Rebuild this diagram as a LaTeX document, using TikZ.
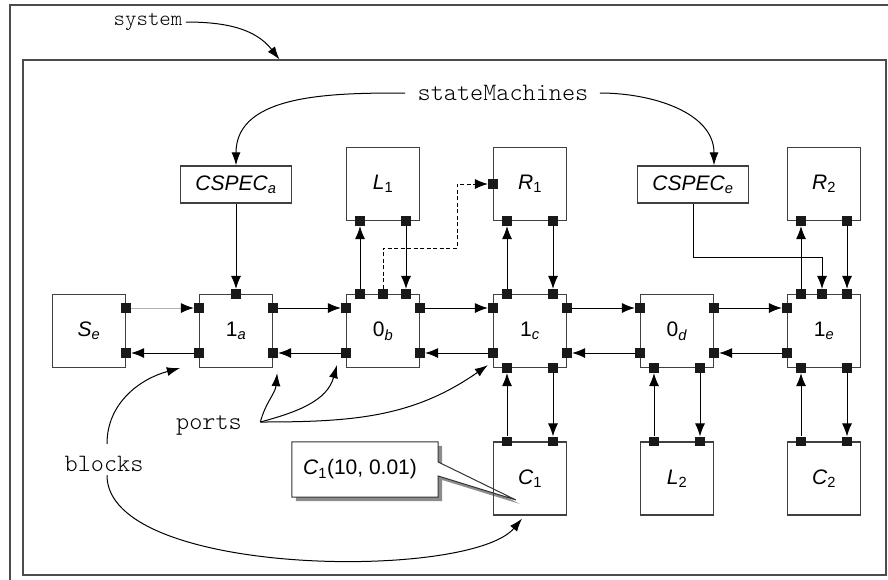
\documentclass[tikz,border=0pt]{standalone}
\usepackage{fontspec}
\setmainfont{Liberation Sans}
\setmonofont{Latin Modern Mono Light}
\usetikzlibrary{arrows.meta,shadows,backgrounds}

\newcommand{\blkfont}{\fontsize{21}{25}\selectfont}
\newcommand{\annfont}{\ttfamily\fontsize{25}{28}\selectfont}
\newcommand{\sysfont}{\ttfamily\fontsize{21.8}{24}\selectfont}

\tikzset{
  frame/.style={draw=black!70, line width=1.1pt},
  block/.style={draw=black!75, line width=1.3pt, minimum size=73pt, inner sep=0pt, font=\blkfont},
  spec/.style={draw=black!75, line width=1.3pt, minimum width=111pt, minimum height=37pt, inner sep=0pt, font=\blkfont},
  port/.style={fill=black!90, minimum size=9.5pt, inner sep=0pt},
  conn/.style={line width=1pt, -{Latex[length=13pt,width=10pt]}},
  ann/.style={line width=1pt, -{Latex[length=13pt,width=9pt]}},
  note/.style={font=\annfont},
  shade/.style={drop shadow={shadow xshift=4pt, shadow yshift=-4pt, fill=black!45, opacity=1}}
}

\begin{document}
\begin{tikzpicture}[x=1pt,y=-1pt]
\useasboundingbox (0,0) rectangle (888,579);
\clip (0,0) rectangle (888,579);

% frames
\draw[frame] (10,5) rectangle (900,600);
\node[frame, minimum width=863pt, minimum height=515pt, inner sep=0pt] (sys) at (454.5,317.5) {};

% blocks
\node[block] (se) at (89,331) {\textit{S}\textsubscript{\textit{e}}};
\node[block] (oa) at (236,331) {1\textsubscript{\textit{a}}};
\node[block] (zb) at (383,331) {0\textsubscript{\textit{b}}};
\node[block] (oc) at (530,331) {1\textsubscript{\textit{c}}};
\node[block] (zd) at (677,331) {0\textsubscript{\textit{d}}};
\node[block] (oe) at (824,331) {1\textsubscript{\textit{e}}};
\node[block] (lone) at (383,184) {\textit{L}\textsubscript{1}};
\node[block] (rone) at (530,184) {\textit{R}\textsubscript{1}};
\node[block] (rtwo) at (824,184) {\textit{R}\textsubscript{2}};
\node[block] (cone) at (530,478.5) {\textit{C}\textsubscript{1}};
\node[block] (ltwo) at (677,478.5) {\textit{L}\textsubscript{2}};
\node[block] (ctwo) at (824,478.5) {\textit{C}\textsubscript{2}};
\node[spec] (speca) at (236,184.5) {\textit{CSPEC}\textsubscript{\textit{a}}};
\node[spec] (spece) at (693,184.5) {\textit{CSPEC}\textsubscript{\textit{e}}};

% ports
\foreach \b in {se,oa,zb,oc,zd} {
  \node[port] (\b-e1) at ([yshift=23pt]\b.east) {};
  \node[port] (\b-e2) at ([yshift=-22pt]\b.east) {};
}
\foreach \b in {oa,zb,oc,zd,oe} {
  \node[port] (\b-w1) at ([yshift=23pt]\b.west) {};
  \node[port] (\b-w2) at ([yshift=-22pt]\b.west) {};
}
\foreach \b in {zb,oc,oe,cone,ltwo,ctwo} {
  \node[port] (\b-n1) at ([xshift=-23pt]\b.north) {};
  \node[port] (\b-n3) at ([xshift=23pt]\b.north) {};
}
\foreach \b in {oc,zd,oe,lone,rone,rtwo} {
  \node[port] (\b-s1) at ([xshift=-23pt]\b.south) {};
  \node[port] (\b-s3) at ([xshift=23pt]\b.south) {};
}
\node[port] (oa-n) at (oa.north) {};
\node[port] (zb-n2) at (zb.north) {};
\node[port] (oe-n2) at ([xshift=-2pt]oe.north) {};
\node[port] (rone-w) at (rone.west) {};

% connections
\draw[conn, draw=black!30, -{Latex[length=13pt,width=10pt,color=black]}] (se-e1) -- (oa-w1);
\draw[conn] (oa-w2) -- (se-e2);
\foreach \a/\b in {oa/zb,zb/oc,oc/zd,zd/oe} {
  \draw[conn] (\a-e1) -- (\b-w1);
  \draw[conn] (\b-w2) -- (\a-e2);
}
\foreach \a/\b in {zb/lone,oc/rone,oe/rtwo} {
  \draw[conn] (\a-n1) -- (\b-s1);
  \draw[conn] (\b-s3) -- (\a-n3);
}
\foreach \a/\b in {oc/cone,zd/ltwo,oe/ctwo} {
  \draw[conn] (\b-n1) -- (\a-s1);
  \draw[conn] (\a-s3) -- (\b-n3);
}
\draw[conn] (speca) -- (oa-n);
\draw[conn] (spece.south) -- ++(0,54) -| (oe-n2);
\draw[conn, dash pattern=on 4pt off 2.5pt] (zb-n2) |- (457,248) |- (rone-w);

% annotations
\node[note, font=\sysfont] (sysl) at (148,22) {system};
\node[note] (sm) at (503,93) {stateMachines};
\node[note] (ports) at (209,425) {ports};
\node[note] (blk) at (104,464) {blocks};

\draw[ann] (sysl.east) to[out=0,in=128] ([xshift=257pt]sys.north west);
\draw[ann] ([xshift=-9pt]sm.west) to[out=180,in=90] (speca.north);
\draw[ann] ([xshift=8pt]sm.east) to[out=0,in=90] ([xshift=21pt]spece.north);

\coordinate (pfrom) at ([shift={(15pt,3pt)}]ports.east);
\draw[ann] (pfrom) to[out=75,in=-95] ([shift={(4pt,-5pt)}]oa.south east);
\draw[ann] (pfrom) to[out=15,in=-105] ([shift={(-9pt,3pt)}]zb.south west);
\draw[ann] (pfrom) to[out=0,in=-145] ([shift={(-5pt,3pt)}]oc.south west);

\draw[ann] ([shift={(3pt,9pt)}]blk.north) to[out=90,in=195] ([xshift=-19pt]oa.south west);
\draw[ann] ([xshift=3pt]blk.south) .. controls +(0,102) and +(-52,62) .. ([shift={(-8pt,-3pt)}]cone.south);

% parameter callout
\coordinate (cnote) at (516,500);
\node[minimum width=146pt, minimum height=55pt, inner sep=0pt, font=\blkfont] (cpar) at (365,469.5)
  {\textit{C}\textsubscript{1}(10, 0.01)\hspace*{10pt}};
\begin{scope}[on background layer]
\draw[shade, draw=black!80, line width=1pt, fill=white] (cpar.north west) -- (cpar.north east)
  -- ([yshift=7.5pt]cpar.east) -- (cnote) -- ([yshift=-6.5pt]cpar.east)
  -- (cpar.south east) -- (cpar.south west) -- cycle;
\end{scope}

\end{tikzpicture}
\end{document}
